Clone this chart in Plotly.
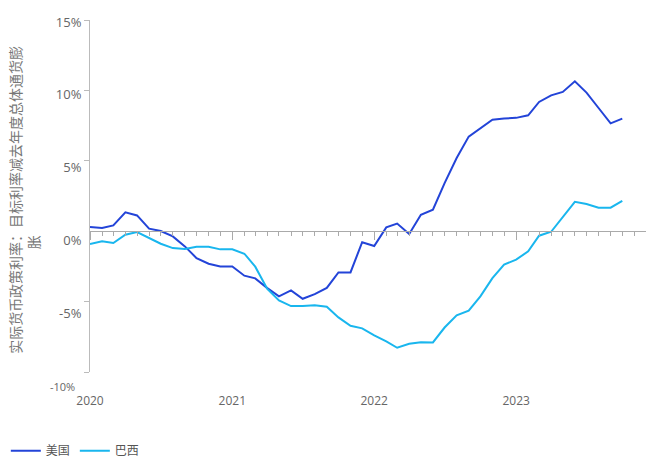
import plotly.graph_objects as go
import pandas as pd

months = pd.date_range("2020-01-01", periods=46, freq="MS").strftime("%Y-%m-%d").tolist()

us = [0.30, 0.23, 0.41, 1.34, 1.12, 0.18, 0.01, -0.37, -1.08, -1.91,
      -2.31, -2.50, -2.51, -3.16, -3.35, -4.04, -4.63, -4.20, -4.80, -4.47,
      -4.03, -2.93, -2.93, -0.78, -1.05, 0.27, 0.54, -0.20, 1.17, 1.53,
      3.42, 5.20, 6.72, 7.33, 7.92, 8.01, 8.05, 8.23, 9.18, 9.65,
      9.89, 10.65, 9.84, 8.75, 7.66, 8.00]

brazil = [-0.91, -0.72, -0.84, -0.25, -0.06, -0.48, -0.89, -1.20, -1.27, -1.10,
          -1.10, -1.29, -1.29, -1.60, -2.52, -4.10, -4.92, -5.32, -5.32, -5.26,
          -5.36, -6.12, -6.72, -6.90, -7.40, -7.83, -8.28, -8.00, -7.88, -7.90,
          -6.84, -5.98, -5.65, -4.63, -3.33, -2.37, -2.02, -1.43, -0.32, -0.04,
          1.05, 2.09, 1.93, 1.67, 1.67, 2.15]

series_names = ["美国", "巴西"]
y_tick_vals = [15, 10, 5, 0, -5]
y_tick_text = ["15%", "10%", "5%", "0%", "-5%"]
y_bottom_label = "-10%"
x_tick_vals = ["2020-01-01", "2021-01-01", "2022-01-01", "2023-01-01"]
x_tick_text = ["2020", "2021", "2022", "2023"]
y_title = "实际货币政策利率：目标利率减去年度总体通货膨"
y_title_tail = "胀"

FONT = "Open Sans, Noto Sans CJK SC, sans-serif"
CJK = "Noto Sans CJK SC, sans-serif"
x_range = ["2020-01-01", "2023-12-01"]

fig = go.Figure()
fig.add_trace(go.Scatter(x=months, y=us, name=series_names[0], mode="lines",
                         line=dict(color="#2344d8", width=2)))
fig.add_trace(go.Scatter(x=months, y=brazil, name=series_names[1], mode="lines",
                         line=dict(color="#19b6ee", width=2)))
# helper trace so the overlay axes (zero-line axis and label axis) are drawn
fig.add_trace(go.Scatter(x=[], y=[], xaxis="x2", yaxis="y2", showlegend=False,
                         hoverinfo="skip"))

fig.update_layout(
    width=646, height=459,
    margin=dict(l=90, r=0, t=20, b=87, autoexpand=False),
    paper_bgcolor="white", plot_bgcolor="white",
    font=dict(family=FONT, color="#666", size=13),
    showlegend=True,
    legend=dict(orientation="h", xref="container", yref="container",
                x=0.009, y=0.018, xanchor="left", yanchor="middle",
                font=dict(family=CJK, size=12, color="#555"), itemwidth=30,
                bgcolor="rgba(0,0,0,0)"),
    xaxis=dict(type="date", range=x_range, showline=False, showgrid=False,
               zeroline=False, ticks="", tickvals=x_tick_vals, ticktext=x_tick_text,
               tickfont=dict(size=12, color="#666"), ticklabelstandoff=20),
    xaxis2=dict(type="date", range=x_range, overlaying="x", anchor="free",
                position=0.4, side="bottom", showline=True, linecolor="#aaa",
                linewidth=1, showgrid=False, zeroline=False, showticklabels=False,
                ticks="outside", ticklen=8, tickcolor="#aaa", tickvals=x_tick_vals,
                minor=dict(ticks="outside", ticklen=4, tickcolor="#aaa",
                           dtick="M1", tick0="2020-01-01", showgrid=False)),
    yaxis=dict(range=[-10, 15], showline=True, linecolor="#bbb", linewidth=1,
               showgrid=False, zeroline=False, ticks="outside", ticklen=5,
               tickcolor="#bbb", tickvals=[-10, -5, 5, 10, 15],
               showticklabels=False),
    yaxis2=dict(range=[-9.03, 15.137], overlaying="y", side="left",
                showline=False, showgrid=False, zeroline=False,
                ticks="outside", ticklen=5, tickcolor="rgba(0,0,0,0)",
                tickvals=y_tick_vals, ticktext=y_tick_text,
                tickfont=dict(size=13, color="#666")),
    annotations=[
        dict(text=y_bottom_label, xref="paper", yref="paper",
             x=-0.0495, y=-0.04, xanchor="center", yanchor="middle",
             showarrow=False, font=dict(size=11, color="#666", family=FONT)),
        dict(text=y_title + "<br>" + y_title_tail + "\u00a0" * 27,
             xref="paper", yref="paper", x=-0.1187, y=0.489, textangle=-90,
             xanchor="center", yanchor="middle",
             showarrow=False, font=dict(size=14, color="#777", family=CJK)),
    ],
)

fig.write_html("out.html", config={"displayModeBar": False},
               post_script="document.body.style.margin='0';document.body.style.overflow='hidden';")
